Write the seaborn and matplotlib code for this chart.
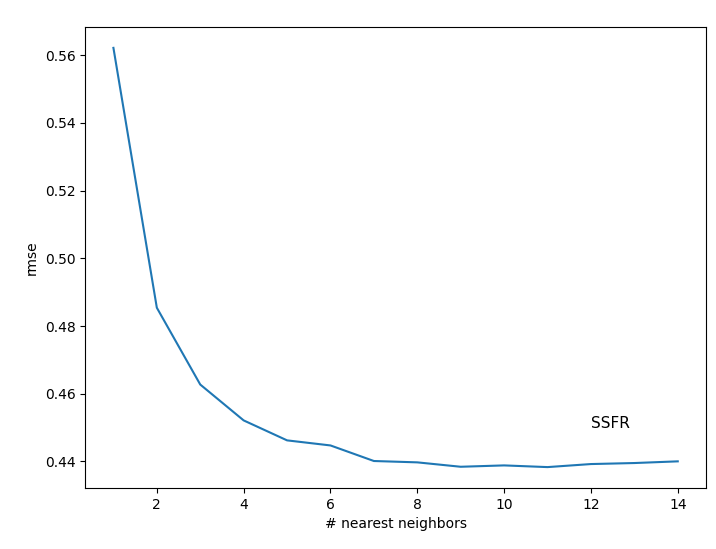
import matplotlib
matplotlib.use("Agg")
import matplotlib.pyplot as plt
import seaborn as sns

neighbors = list(range(1, 15))
rmse = [0.5622, 0.4854, 0.4627, 0.4521, 0.4462, 0.4447, 0.4401, 0.4397,
        0.4384, 0.4388, 0.4383, 0.4392, 0.4395, 0.4400]

fig = plt.figure(figsize=(7.16, 5.49), dpi=100)
ax = fig.add_axes([0.119, 0.111, 0.867, 0.840])
sns.lineplot(x=neighbors, y=rmse, ax=ax, color='#1f77b4')
ax.text(12, 0.45, 'SSFR', fontsize=11)
ax.set_xticks([2, 4, 6, 8, 10, 12, 14])
ax.set_xlabel('# nearest neighbors')
ax.set_ylabel('rmse')
plt.savefig('out.png')
